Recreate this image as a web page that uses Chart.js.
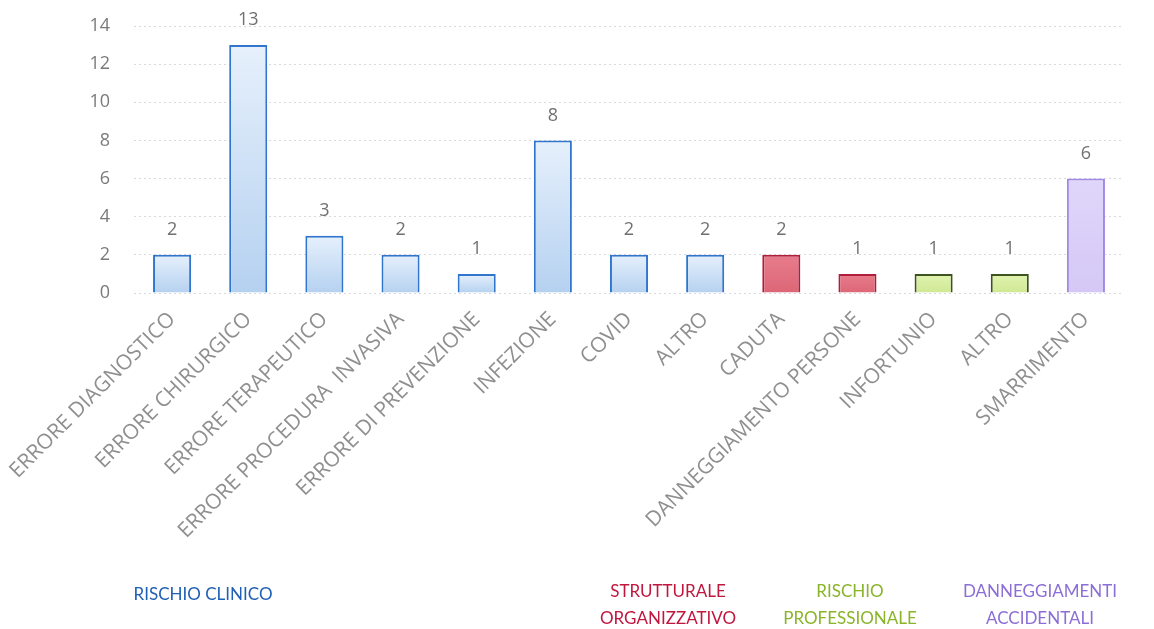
<!DOCTYPE html>
<html>
<head>
<meta charset="utf-8">
<script src="https://cdn.jsdelivr.net/npm/chart.js@4.4.0/dist/chart.umd.min.js"></script>
<style>
  html, body { margin: 0; padding: 0; background: #fff; }
  #wrap { position: relative; width: 1154px; height: 629px; }
  .group {
    position: absolute;
    font-family: 'Lato', 'Open Sans', sans-serif;
    font-size: 17px;
    line-height: 27px;
    text-align: center;
    transform: translateX(-50%);
    white-space: nowrap;
  }
</style>
</head>
<body>
<div id="wrap">
  <canvas id="riskChart" width="1154" height="629"></canvas>
  <div class="group" style="left:203px; top:580px; color:#1f5fb5;">RISCHIO CLINICO</div>
  <div class="group" style="left:668px; top:577px; color:#c0173f;">STRUTTURALE<br>ORGANIZZATIVO</div>
  <div class="group" style="left:850px; top:577px; color:#8ab42a;">RISCHIO<br>PROFESSIONALE</div>
  <div class="group" style="left:1040px; top:577px; color:#8b6fd6;">DANNEGGIAMENTI<br>ACCIDENTALI</div>
</div>
<script>
/* ===== DATA ===== */
const CATEGORIES = [
  'ERRORE DIAGNOSTICO', 'ERRORE CHIRURGICO', 'ERRORE TERAPEUTICO',
  'ERRORE PROCEDURA  INVASIVA', 'ERRORE DI PREVENZIONE', 'INFEZIONE',
  'COVID', 'ALTRO', 'CADUTA', 'DANNEGGIAMENTO PERSONE',
  'INFORTUNIO', 'ALTRO', 'SMARRIMENTO'
];
const VALUES = [2, 13, 3, 2, 1, 8, 2, 2, 2, 1, 1, 1, 6];
const GROUPS = ['clinico', 'clinico', 'clinico', 'clinico', 'clinico', 'clinico',
  'clinico', 'clinico', 'strutturale', 'strutturale', 'professionale', 'professionale', 'accidentali'];
const Y_TICKS = [0, 2, 4, 6, 8, 10, 12, 14];

const GROUP_STYLE = {
  clinico:       { top: '#e6f0fc', bottom: '#b5d1f0', border: '#2f76cc' },
  strutturale:   { top: '#e87c8c', bottom: '#dc6676', border: '#b01e3c' },
  professionale: { top: '#e0f3b0', bottom: '#d0e894', border: '#3d5420' },
  accidentali:   { top: '#e0d6fa', bottom: '#d5c8f6', border: '#a088e4' },
};

const FONT = "'Open Sans', 'Lato', sans-serif";

function barFill(ctx) {
  const chart = ctx.chart;
  const style = GROUP_STYLE[GROUPS[ctx.dataIndex]];
  if (!chart.chartArea || ctx.type !== 'data') return style.bottom;
  const y = chart.scales.y;
  const top = y.getPixelForValue(VALUES[ctx.dataIndex]);
  const bottom = y.getPixelForValue(0);
  const g = chart.ctx.createLinearGradient(0, top, 0, bottom);
  g.addColorStop(0, style.top);
  g.addColorStop(1, style.bottom);
  return g;
}

// value labels above bars
const valueLabels = {
  id: 'valueLabels',
  afterDatasetsDraw(chart) {
    const { ctx } = chart;
    const meta = chart.getDatasetMeta(0);
    ctx.save();
    ctx.font = `18px ${FONT}`;
    ctx.fillStyle = '#707070';
    ctx.textAlign = 'center';
    ctx.textBaseline = 'middle';
    meta.data.forEach((bar, i) => {
      ctx.fillText(String(VALUES[i]), bar.x, bar.y - 25);
    });
    ctx.restore();
  }
};

new Chart(document.getElementById('riskChart'), {
  type: 'bar',
  data: {
    labels: CATEGORIES,
    datasets: [{
      data: VALUES,
      backgroundColor: barFill,
      borderColor: GROUPS.map(g => GROUP_STYLE[g].border),
      borderWidth: 2,
      borderSkipped: 'bottom',
      barPercentage: 0.5,
      categoryPercentage: 1,
    }]
  },
  options: {
    responsive: false,
    animation: false,
    layout: { padding: { top: 26, right: 30, left: 0, bottom: 0 } },
    plugins: {
      legend: { display: false },
      tooltip: { enabled: false },
    },
    scales: {
      y: {
        min: 0,
        max: 14,
        afterBuildTicks: scale => { scale.ticks = Y_TICKS.map(v => ({ value: v })); },
        afterFit: scale => { scale.width = 134; scale.paddingTop = 0; scale.paddingBottom = 0; },
        border: { display: false, dash: [2, 3] },
        grid: { color: '#d6d9de', lineWidth: 1, drawTicks: false },
        ticks: { color: '#7a7a7a', padding: 24, font: { family: FONT, size: 18 } },
      },
      x: {
        afterFit: scale => { scale.height = 336; },
        border: { display: false },
        grid: { display: false },
        ticks: {
          color: '#8f8f8f',
          minRotation: 45,
          maxRotation: 45,
          autoSkip: false,
          padding: 6,
          font: { family: FONT, size: 21 },
        },
      }
    }
  },
  plugins: [valueLabels]
});
</script>
</body>
</html>
